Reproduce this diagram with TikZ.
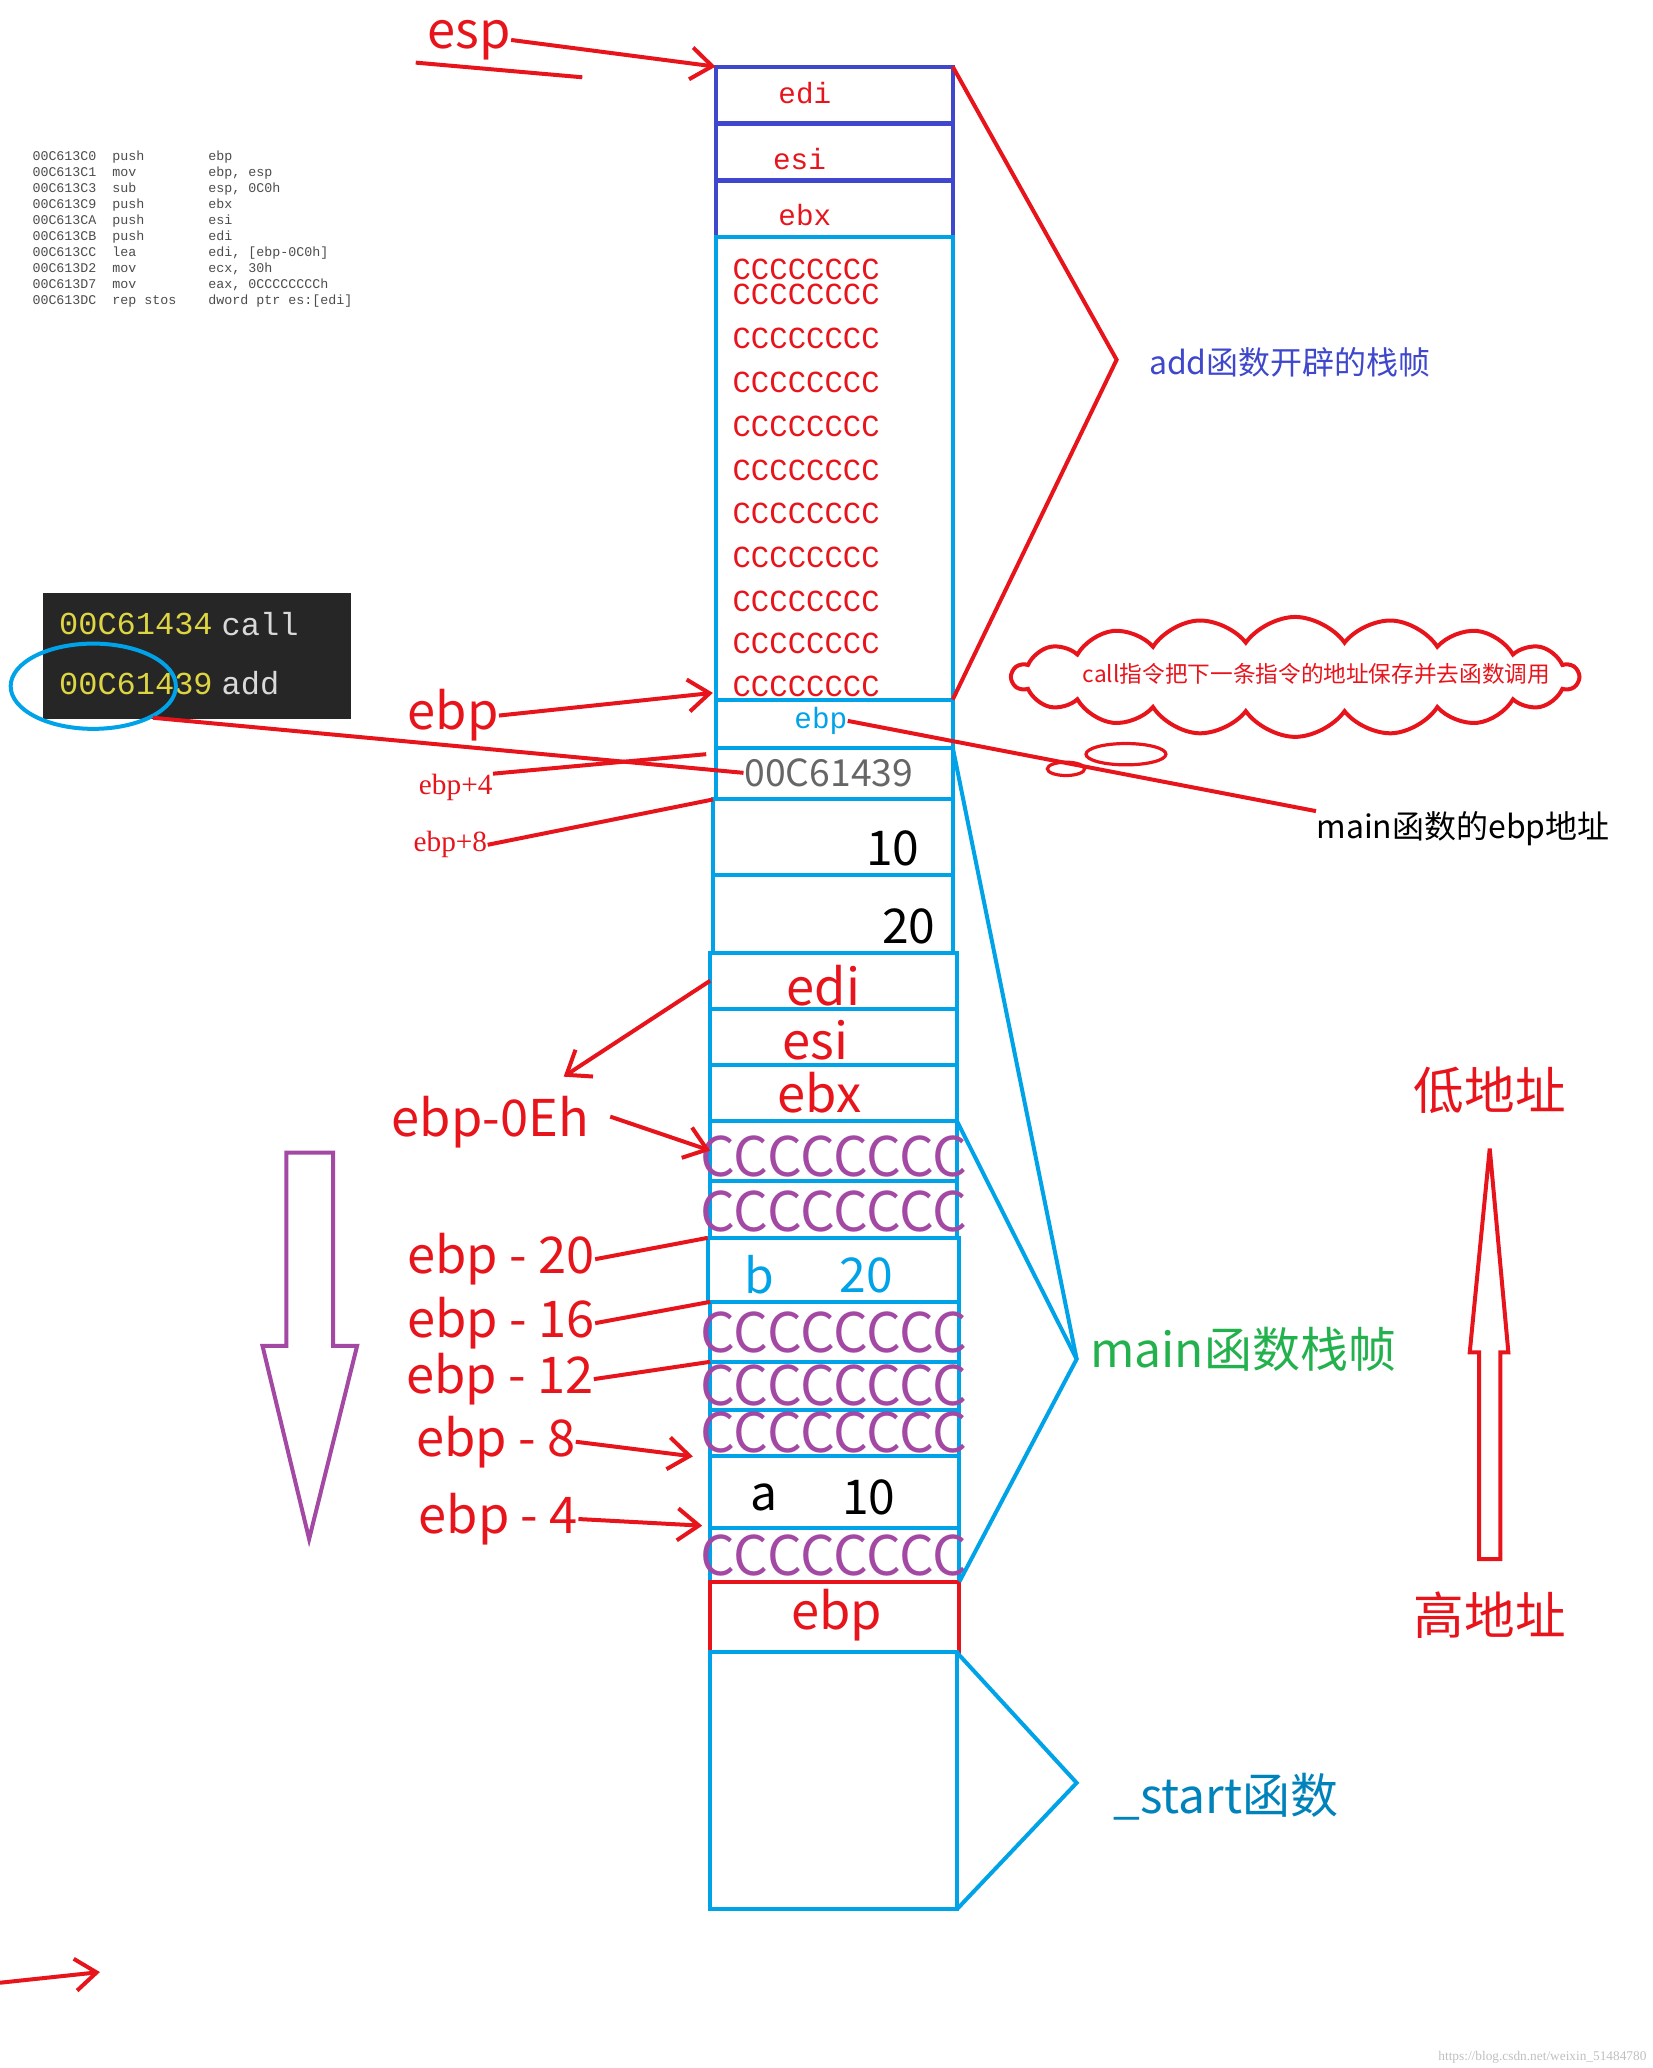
\documentclass[tikz,border=0pt]{standalone}
\usepackage{fontspec}
\setmainfont{Liberation Serif}
\newfontfamily\cjk{Noto Sans CJK SC}
\newfontfamily\mono{Liberation Mono}
\usetikzlibrary{shapes.symbols,shapes.geometric,arrows.meta}
\definecolor{rd}{HTML}{E8141C}
\definecolor{cy}{HTML}{00A2E8}
\definecolor{pu}{HTML}{A349A4}
\definecolor{gr}{HTML}{22B14C}
\definecolor{db}{HTML}{3F48CC}
\newcommand{\mycell}[6]{\node[draw=#6,line width=1.5pt,minimum width={(#4-#2)*0.5pt},minimum height={(#5-#3)*0.5pt},anchor=north west,inner sep=0pt,outer sep=0pt] (#1) at (#2,#3) {};}
\tikzset{
 ln/.style={line width=1.5pt},
 rline/.style={rd,line width=1.5pt},
 rarr/.style={rd,line width=1.5pt,-{Straight Barb[length=8pt,width=12pt]}},
 cline/.style={cy,line width=1.5pt},
 lab/.style={rd,font=\cjk\fontsize{19}{19}\selectfont,inner sep=0pt},
 slab/.style={rd,font=\fontsize{11}{11}\selectfont,inner sep=0pt},
 tc/.style={rd,font=\mono\fontsize{11.5}{11.5}\selectfont,inner sep=0pt},
 pc/.style={pu,font=\cjk\fontsize{20.5}{20.5}\selectfont,inner sep=0pt},
 asm/.style={font=\mono\fontsize{5}{6}\selectfont,text=black!70,anchor=north west,inner sep=0pt}
}
\begin{document}
\begin{tikzpicture}[x=0.5pt,y=-0.5pt]
\useasboundingbox (0,0) rectangle (1240,1552);
% top stack (add frame)
\mycell{tedi}{537}{50}{715}{92}{db}
\mycell{tesi}{537}{93}{715}{135}{db}
\mycell{tebx}{537}{136}{715}{178}{db}
\mycell{tcc}{537}{178}{715}{525}{cy}
\node[rd,font=\mono\fontsize{11}{11}\selectfont] at (604,70) {edi};
\node[rd,font=\mono\fontsize{11}{11}\selectfont] at (600,119) {esi};
\node[rd,font=\mono\fontsize{11}{11}\selectfont] at (604,161) {ebx};
\foreach \yy in {202,221,254,287,320,353,385,418,451,483,515}
  \node[tc] at (605,\yy) {CCCCCCCC};
\mycell{tebp}{537}{525}{715}{561}{cy}
\node[cy,font=\mono\fontsize{11}{11}\selectfont,inner sep=0pt] (ebptxt) at (616,541) {ebp};
\mycell{ret}{537}{561}{715}{600}{cy}
\node[font=\cjk\fontsize{14}{14}\selectfont,text=black!60,inner sep=0pt] at (622,580) {00C61439};
\mycell{p10}{535}{600}{715}{657}{cy}
\node[font=\cjk\fontsize{18}{18}\selectfont,inner sep=0pt] at (670,637) {10};
\mycell{p20}{535}{657}{715}{715}{cy}
\node[font=\cjk\fontsize{18}{18}\selectfont,inner sep=0pt] at (682,695) {20};
% main frame
\mycell{medi}{533}{715}{718}{757}{cy}
\mycell{mesi}{533}{757}{718}{799}{cy}
\mycell{mebx}{533}{799}{718}{841}{cy}
\node[lab] at (618,740) {edi};
\node[lab] at (612,781) {esi};
\node[lab] at (615,820) {ebx};
\mycell{c1}{533}{841}{718}{886}{cy}
\mycell{c2}{533}{886}{718}{929}{cy}
\mycell{bb}{531}{929}{720}{977}{cy}
\mycell{c3}{533}{977}{720}{1022}{cy}
\mycell{c4}{533}{1022}{720}{1058}{cy}
\mycell{c5}{533}{1058}{720}{1093}{cy}
\mycell{aa}{533}{1093}{720}{1147}{cy}
\mycell{c6}{533}{1147}{720}{1187}{cy}
\foreach \yy in {868,909,1000,1040,1075,1167}
  \node[pc] at (626,\yy) {CCCCCCCC};
\node[cy,font=\cjk\fontsize{18}{18}\selectfont,inner sep=0pt] at (570,957) {b};
\node[cy,font=\cjk\fontsize{18}{18}\selectfont,inner sep=0pt] at (650,957) {20};
\node[font=\cjk\fontsize{18}{18}\selectfont,inner sep=0pt] at (573,1124) {a};
\node[font=\cjk\fontsize{18}{18}\selectfont,inner sep=0pt] at (652,1124) {10};
\mycell{mebp}{533}{1187}{720}{1240}{rd}
\node[lab] at (628,1212) {ebp};
\mycell{start}{533}{1240}{718}{1433}{cy}
% brackets
\coordinate (b1) at (838,270);
\draw[rline] (tedi.north east) -- (b1) -- (tcc.south east);
\node[db,font=\cjk\fontsize{12}{12}\selectfont,inner sep=0pt] at (968,272) {add函数开辟的栈帧};
\coordinate (b2) at (808,1020);
\draw[cline] (mebx.south east) -- (b2) -- (c6.south east);
\draw[cline] (ret.north east) -- (b2);
\node[gr,font=\cjk\fontsize{18}{18}\selectfont,inner sep=0pt] at (933,1013) {main函数栈帧};
\coordinate (b3) at (808,1338);
\draw[cline] (start.north east) -- (b3) -- (start.south east);
\node[cy!80!black,font=\cjk\fontsize{18}{18}\selectfont,inner sep=0pt] at (920,1348) {\_start函数};
% esp
\node[lab] (esp) at (352,30) {esp};
\draw[rarr] (esp.east) -- (tedi.north west);
\draw[rline] (312,47) -- (437,58);
% asm listing
\node[asm] at (24,112) {%
\begin{tabular}{@{}l@{\hspace{6pt}}l@{\hspace{12pt}}l@{}}
00C613C0 & push & ebp\\
00C613C1 & mov & ebp, esp\\
00C613C3 & sub & esp, 0C0h\\
00C613C9 & push & ebx\\
00C613CA & push & esi\\
00C613CB & push & edi\\
00C613CC & lea & edi, [ebp-0C0h]\\
00C613D2 & mov & ecx, 30h\\
00C613D7 & mov & eax, 0CCCCCCCCh\\
00C613DC & rep stos & dword ptr es:[edi]
\end{tabular}};
% dark box
\node[fill=black!85,minimum width={231*0.5pt},minimum height={94*0.5pt},anchor=north west,inner sep=0pt] (dark) at (32,445) {};
\node[font=\mono\fontsize{12}{12}\selectfont,text=yellow!70!gray,anchor=west,inner sep=0pt] at (44,468) {00C61434};
\node[font=\mono\fontsize{12}{12}\selectfont,text=white!85!black,anchor=west,inner sep=0pt] at (166,468) {call};
\node[font=\mono\fontsize{12}{12}\selectfont,text=yellow!70!gray,anchor=west,inner sep=0pt] (addr) at (44,513) {00C61439};
\node[font=\mono\fontsize{12}{12}\selectfont,text=white!85!black,anchor=west,inner sep=0pt] at (166,513) {add};
\node[draw=cy,line width=1.5pt,ellipse,minimum width={124*0.5pt},minimum height={64*0.5pt}] (circ) at (70,515) {};
\draw[rline] (circ.south east) -- (558,580);
% left labels
\node[lab] (l0) at (340,537) {ebp};
\draw[rarr] (l0.east) -- (535,520);
\node[slab] (l4) at (342,591) {ebp+4};
\draw[rline] (l4.north east) -- (530,566);
\node[slab] (l8) at (338,634) {ebp+8};
\draw[rline] (l8.east) -- (535,600);
\coordinate (dn) at (423,808);
\draw[rarr] (medi.west) -- (dn);
\node[lab] (le) at (368,842) {ebp-0Eh};
\draw[rarr] (458,838) -- (c1.west);
\node[lab] (l20) at (376,945) {ebp - 20};
\draw[rline] (l20.east) -- (bb.north west);
\node[lab] (l16) at (376,993) {ebp - 16};
\draw[rline] (l16.east) -- (c3.north west);
\node[lab] (l12) at (375,1035) {ebp - 12};
\draw[rline] (l12.east) -- (c4.north west);
\node[lab] (lm8) at (372,1082) {ebp - 8};
\draw[rarr] (lm8.east) -- (520,1093);
\node[lab] (lm4) at (374,1140) {ebp - 4};
\draw[rarr] (lm4.east) -- (527,1145);
% cloud
\node[cloud,draw=rd,line width=1.5pt,cloud puffs=18,cloud puff arc=110,aspect=5,minimum width={425*0.5pt},minimum height={90*0.5pt},inner sep=0pt] (cl) at (972,508) {};
\node[rd,font=\cjk\fontsize{8.5}{9}\selectfont,inner sep=0pt] at (988,506) {call指令把下一条指令的地址保存并去函数调用};
\draw[rd,line width=1.2pt] (845,566) ellipse (30 and 8);
\draw[rd,line width=1.2pt] (800,577) ellipse (14 and 5);
\node[font=\cjk\fontsize{12}{12}\selectfont,inner sep=0pt] (mebpl) at (1098,622) {main函数的ebp地址};
\draw[rline] (ebptxt.east) -- (mebpl.north west);
% hollow arrows
\draw[pu,line width=1.5pt] (215,865) -- (250,865) -- (250,1010) -- (268,1010) -- (232,1155) -- (197,1010) -- (215,1010) -- cycle;
\draw[rd,line width=1.5pt] (1110,1170) -- (1126,1170) -- (1126,1015) -- (1132,1015) -- (1118,862) -- (1103,1015) -- (1110,1015) -- cycle;
\node[rd,font=\cjk\fontsize{19}{19}\selectfont,inner sep=0pt] at (1118,818) {低地址};
\node[rd,font=\cjk\fontsize{19}{19}\selectfont,inner sep=0pt] at (1118,1212) {高地址};
\draw[rarr] (0,1488) -- (75,1480);
\node[font=\fontsize{5}{5}\selectfont,text=black!25,anchor=south east,inner sep=0pt] at (1236,1549) {https://blog.csdn.net/weixin\_51484780};
\end{tikzpicture}
\end{document}
